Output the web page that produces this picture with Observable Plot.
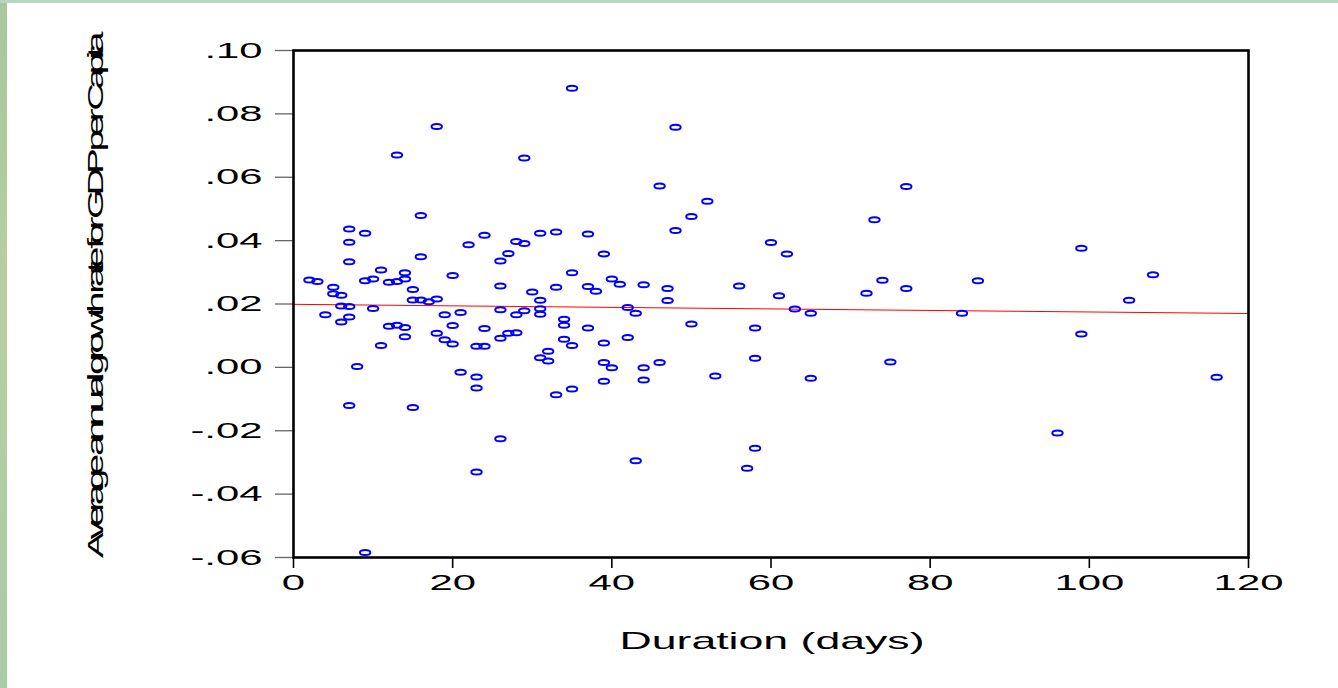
<!DOCTYPE html>
<html><head><meta charset="utf-8">
<script src="https://cdn.jsdelivr.net/npm/d3@7"></script>
<script src="https://cdn.jsdelivr.net/npm/@observablehq/plot@0.6"></script>
<style>
html,body{margin:0;padding:0;}
body{width:1338px;height:688px;overflow:hidden;position:relative;
  background:linear-gradient(180deg,#b9d6c2 0px,#b9d6c2 3px,#a8c79d 3px,#b6cf9f 300px,#a9cba6 688px);
  font-family:"Liberation Sans",Arial,sans-serif;}
#panel{position:absolute;left:7px;top:3px;width:1331px;height:685px;background:#fff;}
.title{position:absolute;white-space:nowrap;color:#000;line-height:1;}
</style></head>
<body>
<div id="panel"></div>
<span id="xtitle" class="title" style="font-size:24px;left:772px;top:641px;">Duration (days)</span>
<span id="ytitle" class="title" style="font-size:22px;left:96px;top:298px;">Average annual growth rate for GDP per Capita</span>
<script>
const duration = [35,18,48,13,29,46,77,52,50,16,73,48,7,9,24,31,33,37,7,22,28,29,60,99,27,16,39,62,26,7,11,14,20,35,2,3,9,10,12,13,14,40,41,44,74,86,108,5,5,6,15,26,33,37,38,47,56,77,30,61,72,15,16,17,18,31,47,105,6,7,10,21,26,29,31,31,42,43,28,19,63,65,84,7,6,4,34,34,12,13,14,20,24,37,50,58,14,18,27,28,99,26,19,34,42,20,23,24,11,39,35,32,32,31,39,40,44,46,58,75,8,21,23,53,65,116,39,44,23,35,33,7,15,26,96,58,43,57,23,9];
const growth = [0.0881,0.0760,0.0758,0.0670,0.0661,0.0572,0.0571,0.0524,0.0476,0.0479,0.0466,0.0432,0.0437,0.0423,0.0417,0.0423,0.0427,0.0421,0.0395,0.0387,0.0397,0.0391,0.0394,0.0376,0.0359,0.0349,0.0358,0.0358,0.0336,0.0333,0.0307,0.0299,0.0290,0.0299,0.0276,0.0271,0.0273,0.0279,0.0269,0.0271,0.0279,0.0279,0.0262,0.0261,0.0275,0.0273,0.0292,0.0253,0.0232,0.0228,0.0246,0.0257,0.0253,0.0255,0.0240,0.0249,0.0257,0.0249,0.0238,0.0226,0.0234,0.0213,0.0213,0.0207,0.0216,0.0212,0.0211,0.0212,0.0194,0.0192,0.0186,0.0173,0.0182,0.0179,0.0185,0.0168,0.0189,0.0171,0.0166,0.0166,0.0184,0.0171,0.0171,0.0159,0.0143,0.0166,0.0152,0.0133,0.0130,0.0133,0.0126,0.0132,0.0123,0.0124,0.0137,0.0124,0.0097,0.0108,0.0108,0.0109,0.0105,0.0092,0.0087,0.0089,0.0094,0.0074,0.0067,0.0067,0.0069,0.0077,0.0069,0.0051,0.0020,0.0030,0.0015,-0.0001,-0.0001,0.0015,0.0029,0.0017,0.0003,-0.0015,-0.0030,-0.0027,-0.0034,-0.0031,-0.0044,-0.0040,-0.0065,-0.0068,-0.0086,-0.0120,-0.0127,-0.0225,-0.0207,-0.0255,-0.0295,-0.0318,-0.0330,-0.0584];
const fitDuration = [0, 120];
const fitGrowth = [0.0199, 0.0170];
const xTicks = [0, 20, 40, 60, 80, 100, 120];
const xTickLabels = ["0", "20", "40", "60", "80", "100", "120"];
const yTicks = [-0.06, -0.04, -0.02, 0, 0.02, 0.04, 0.06, 0.08, 0.10];
const yTickLabels = ["-.06", "-.04", "-.02", ".00", ".02", ".04", ".06", ".08", ".10"];

const points = duration.map((d, i) => ({duration: d, growth: growth[i]}));
const fit = fitDuration.map((d, i) => ({duration: d, growth: fitGrowth[i]}));

const ellipse = {draw(ctx) {
  const rx = 5.2, ry = 2.5, k = 0.5523;
  ctx.moveTo(rx, 0);
  ctx.bezierCurveTo(rx, k*ry, k*rx, ry, 0, ry);
  ctx.bezierCurveTo(-k*rx, ry, -rx, k*ry, -rx, 0);
  ctx.bezierCurveTo(-rx, -k*ry, -k*rx, -ry, 0, -ry);
  ctx.bezierCurveTo(k*rx, -ry, rx, -k*ry, rx, 0);
  ctx.closePath();
}};

const plot = Plot.plot({
  width: 1331, height: 685,
  marginLeft: 286, marginRight: 90, marginTop: 47, marginBottom: 131,
  style: {fontFamily: "Liberation Sans, Arial, sans-serif", fontSize: "22px", background: "white", color: "black"},
  x: {domain: [0, 120]},
  y: {domain: [-0.06, 0.10]},
  marks: [
    Plot.axisX(xTicks, {tickSize: 11, tickPadding: 6, tickFormat: d => xTickLabels[xTicks.indexOf(d)], label: null, stroke: "black", strokeWidth: 1.6, fill: "black", fontSize: 22}),
    Plot.axisY(yTicks, {tickSize: 18, tickPadding: 13, tickFormat: d => yTickLabels[yTicks.indexOf(d)], label: null, stroke: "#666", strokeWidth: 1.3, fill: "black", fontSize: 22}),
    Plot.line(fit, {x: "duration", y: "growth", stroke: "#ff0000", strokeWidth: 1}),
    Plot.dot(points, {x: "duration", y: "growth", symbol: ellipse, stroke: "#0000ff", strokeWidth: 2, fill: "none"}),
    Plot.frame({stroke: "black", strokeWidth: 2.6})
  ]
});
document.getElementById("panel").appendChild(plot);

// stretch tick labels horizontally like the original
plot.querySelectorAll("text").forEach(t => {
  const w = t.getComputedTextLength();
  t.setAttribute("textLength", (w * 1.9).toFixed(1));
  t.setAttribute("lengthAdjust", "spacingAndGlyphs");
});

// x title
const xt = document.getElementById("xtitle");
const xw = xt.getBoundingClientRect().width;
xt.style.transform = `translate(-50%,-50%) scaleX(${305 / xw})`;

// y title (compressed, overlapping glyphs)
const yt = document.getElementById("ytitle");
const s = 1.75;
const w0 = yt.getBoundingClientRect().width;
const n = yt.textContent.length;
yt.style.letterSpacing = ((520 / s - w0) / n) + "px";
yt.style.transform = `translate(-50%,-50%) rotate(-90deg) scaleX(${s})`;
</script>
</body></html>
